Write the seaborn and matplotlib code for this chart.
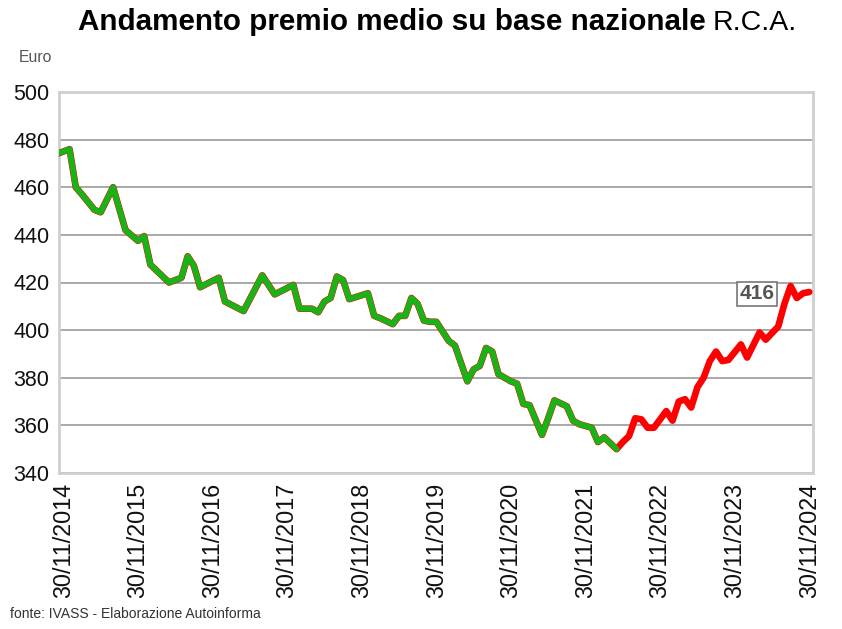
import matplotlib
matplotlib.use("Agg")
import matplotlib.pyplot as plt
import seaborn as sns
import pandas as pd

# month offset from 30/11/2014 and average premium (Euro)
months = [-1, 1, 2, 3, 5, 6, 8, 10, 12, 13, 14, 17, 19, 20, 21, 22, 25, 26, 29, 30,
          32, 34, 37, 38, 40, 41, 42, 43, 44, 45, 46, 49, 50, 51, 53, 54, 55, 56, 57, 58,
          59, 60, 62, 63, 65, 66, 67, 68, 69, 70, 72, 73, 74, 75, 77, 78, 79, 81, 82, 83,
          85, 86, 87, 89, 90, 91, 92, 93, 94, 95, 97, 98, 99, 100, 101, 102, 103, 104, 105, 106,
          107, 109, 110, 112, 113, 115, 116, 117, 118, 119, 120]
values = [474, 476, 460, 457, 450.5, 449.5, 460, 442, 437.5, 439.5, 427.5, 420, 422, 431, 427, 418, 422, 412, 408, 413,
          423, 415, 419, 409, 409, 407.5, 412, 413.5, 422.5, 421, 413, 415.5, 406, 405, 402.5, 406, 406, 413.5, 411, 404,
          403.5, 403.5, 395.5, 393.5, 378.5, 383.5, 385, 392.5, 391, 381.5, 378.5, 377.5, 369, 368.5, 356, 363, 370.5, 368, 362, 360.5,
          359, 353, 355, 350, 353, 355.5, 363, 362.5, 359, 359, 366, 362, 370, 371, 367.5, 376, 380, 387, 391, 387,
          387.5, 394, 388.5, 399, 396, 401.5, 411, 418.5, 413.5, 415.5, 416]
split_month = 89  # green (falling) part ends here, red afterwards
tick_months = [0, 12, 24, 36, 48, 60, 72, 84, 96, 108, 120]
tick_labels = ["30/11/2014", "30/11/2015", "30/11/2016", "30/11/2017", "30/11/2018", "30/11/2019",
               "30/11/2020", "30/11/2021", "30/11/2022", "30/11/2023", "30/11/2024"]
y_ticks = [340, 360, 380, 400, 420, 440, 460, 480, 500]
last_label = "416"

df = pd.DataFrame({"month": months, "value": values})
df_green = df[df["month"] <= split_month]

sns.set_style("white")
plt.rcParams["font.family"] = ["Liberation Sans", "DejaVu Sans"]

fig = plt.figure(figsize=(8.42, 6.29), dpi=100)
ax = fig.add_axes([59 / 842, 1 - 473 / 629, (813 - 59) / 842, (473 - 92) / 629])

sns.lineplot(data=df, x="month", y="value", color="#ff0000", linewidth=4.8, ax=ax,
             solid_joinstyle="round", solid_capstyle="round", zorder=3)
sns.lineplot(data=df_green, x="month", y="value", color="#17b317", linewidth=4.2, ax=ax,
             solid_joinstyle="round", solid_capstyle="round", zorder=4)

ax.set_xlim(-0.7, 120.6)
ax.set_ylim(340, 500)
ax.set_yticks(y_ticks)
ax.set_yticklabels([str(v) for v in y_ticks], fontsize=15.5, color="#111111")
ax.set_xticks(tick_months)
ax.set_xticklabels(tick_labels, rotation=90, fontsize=16.8, color="#111111")
ax.set_xlabel("")
ax.set_ylabel("")

ax.yaxis.grid(True, color="#a8a8a8", linewidth=1.4, zorder=0)
ax.xaxis.grid(False)
ax.set_axisbelow(True)
for s in ax.spines.values():
    s.set_color("#cfcfcf")
    s.set_linewidth(2.0)
ax.tick_params(axis="both", which="both", length=4, width=1.2, color="#c0c0c0", pad=3)

# value label for last point
ax.text(111.6, 415.3, last_label, fontsize=15, fontweight="bold", color="#555555",
        ha="center", va="center",
        bbox=dict(boxstyle="square,pad=0.12", facecolor="white", edgecolor="#777777", linewidth=1.2),
        zorder=5)

fig.text(78 / 842, 1 - 22 / 629, "Andamento premio medio su base nazionale", fontsize=21.3,
         fontweight="bold", color="black", ha="left", va="center")
fig.text(713 / 842, 1 - 23 / 629, "R.C.A.", fontsize=20.5, color="black", ha="left", va="center")
fig.text(19 / 842, 1 - 57 / 629, "Euro", fontsize=11.3, color="#555555", ha="left", va="center")
fig.text(10 / 842, 1 - 614 / 629, "fonte: IVASS - Elaborazione Autoinforma", fontsize=10,
         color="#333333", ha="left", va="center")

fig.savefig("out.png", dpi=100, facecolor="white")
